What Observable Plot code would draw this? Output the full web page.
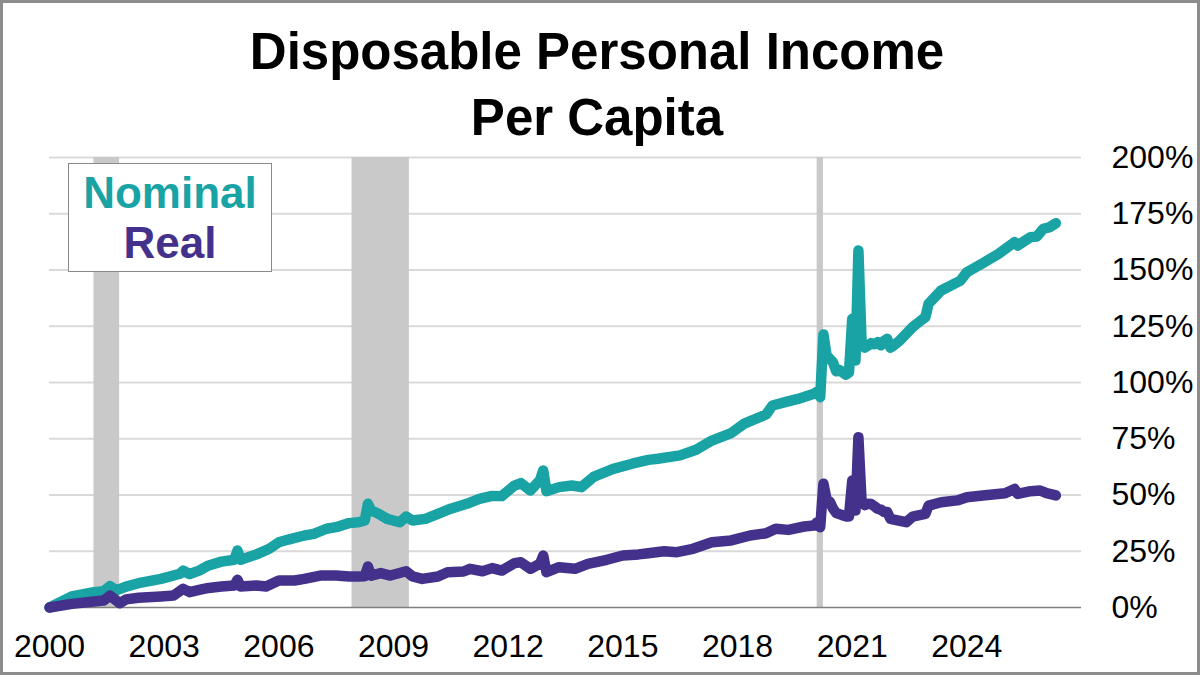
<!DOCTYPE html>
<html>
<head>
<meta charset="utf-8">
<script src="https://cdn.jsdelivr.net/npm/d3@7"></script>
<script src="https://cdn.jsdelivr.net/npm/@observablehq/plot@0.6"></script>
<style>
  body { margin: 0; background: #fff; }
  #wrap { position: relative; width: 1200px; height: 675px; overflow: hidden; background: #fff;
          font-family: Arial, "Liberation Sans", sans-serif; }
  #chart { position: absolute; left: 0; top: 0; }
  #title { position: absolute; left: 0; top: 19px; width: 1194px; text-align: center;
           font-weight: bold; font-size: 51px; line-height: 65.7px; color: #000; }
  #legend { position: absolute; left: 68px; top: 163px; width: 204px; height: 109px; box-sizing: border-box;
            border: 1px solid #8a8a8a; background: #fff; text-align: center; font-weight: bold;
            font-size: 44px; line-height: 50px; padding-top: 4px; }
  #frame { position: absolute; left: 0; top: 0; width: 1200px; height: 675px; box-sizing: border-box;
           border: 3px solid #8c8c8c; pointer-events: none; }
</style>
</head>
<body>
<div id="wrap">
  <div id="chart"></div>
  <div id="title">Disposable Personal Income<br>Per Capita</div>
  <div id="legend"></div>
  <div id="frame"></div>
</div>
<script>
// ---- data (percent change since Jan 2000) ----
const nominalMonths = ["2000-01","2000-08","2001-03","2001-06","2001-08","2001-10","2002-01","2002-05","2002-12","2003-06","2003-07","2003-09","2003-12","2004-03","2004-07","2004-11","2004-12","2005-01","2005-06","2005-10","2006-01","2006-04","2006-09","2006-12","2007-04","2007-07","2007-11","2008-02","2008-04","2008-05","2008-06","2008-08","2008-11","2009-03","2009-05","2009-07","2009-11","2010-03","2010-07","2010-12","2011-04","2011-08","2011-11","2012-03","2012-05","2012-08","2012-11","2012-12","2013-01","2013-05","2013-09","2013-12","2014-04","2014-10","2015-04","2015-09","2015-12","2016-07","2016-12","2017-05","2017-11","2018-03","2018-10","2018-12","2019-04","2019-08","2020-01","2020-02","2020-03","2020-04","2020-05","2020-06","2020-07","2020-08","2020-09","2020-10","2020-11","2020-12","2021-01","2021-02","2021-03","2021-04","2021-05","2021-06","2021-07","2021-08","2021-09","2021-10","2021-11","2021-12","2022-01","2022-02","2022-04","2022-08","2022-11","2022-12","2023-01","2023-05","2023-11","2024-01","2024-06","2024-11","2025-04","2025-05","2025-09","2025-11","2026-01","2026-03","2026-05"];
const nominalValues = [0,4.9,6.8,7.2,9.5,7.6,9.3,10.8,12.7,15.0,16.4,14.9,16.4,18.7,20.4,21.2,25.3,21.2,23.6,26.1,29.0,30.2,32.0,32.7,35.0,35.7,37.5,37.9,38.7,46.1,43.1,41.9,39.4,37.9,40.4,38.7,39.4,41.6,43.9,46.1,48.3,49.6,49.5,54.2,55.3,52.0,56.7,60.9,51.7,53.5,54.2,53.5,58.2,61.6,63.9,65.6,66.1,67.6,70.1,74.2,77.5,81.6,85.8,89.8,91.3,92.7,95.0,96.0,93.5,121.3,112.0,110.5,109.0,105.0,105.5,104.5,103.5,104.5,128.3,109.8,158.7,117.2,115.5,116.4,117.5,117.0,117.9,116.5,118.5,119.4,115.5,116.4,118.7,124.6,128.0,129.0,135.0,140.9,145.3,149.0,153.0,157.2,162.4,160.9,164.6,164.9,168.3,169.0,170.8];

const realMonths = ["2000-01","2000-08","2001-03","2001-06","2001-08","2001-11","2002-01","2002-05","2002-12","2003-04","2003-07","2003-09","2003-12","2004-03","2004-07","2004-11","2004-12","2005-01","2005-06","2005-09","2006-01","2006-06","2006-09","2007-02","2007-07","2007-11","2008-02","2008-04","2008-05","2008-06","2008-09","2008-12","2009-05","2009-07","2009-10","2010-03","2010-06","2010-11","2011-01","2011-05","2011-08","2011-11","2012-03","2012-05","2012-08","2012-11","2012-12","2013-01","2013-05","2013-10","2014-02","2014-08","2015-01","2015-06","2015-09","2016-02","2016-06","2016-11","2017-05","2017-11","2018-05","2018-10","2019-01","2019-05","2019-10","2020-01","2020-02","2020-03","2020-04","2020-05","2020-06","2020-07","2020-08","2020-09","2020-10","2020-11","2020-12","2021-01","2021-02","2021-03","2021-04","2021-05","2021-06","2021-07","2021-08","2021-09","2021-10","2021-11","2021-12","2022-01","2022-04","2022-06","2022-08","2022-12","2023-01","2023-05","2023-10","2024-01","2024-06","2025-01","2025-04","2025-05","2025-09","2025-12","2026-02","2026-05"];
const realValues = [0,1.6,2.7,3.1,5.3,1.9,3.6,4.3,4.9,5.3,8.3,6.8,7.8,8.7,9.3,9.8,12.3,9.3,9.8,9.3,12.0,12.0,12.7,14.2,14.2,13.8,13.8,13.9,18.2,14.2,15.3,14.2,16.1,13.8,12.7,13.8,15.7,16.0,17.2,16.1,17.5,16.4,19.7,20.1,17.2,19.5,23.1,15.7,17.9,17.2,19.4,21.2,23.1,23.6,24.1,25.0,24.6,26.1,29.0,29.8,32.0,33.0,35.0,34.5,36.0,36.4,37.9,35.7,55.0,48.0,47.0,44.0,42.0,41.5,41.0,40.5,40.5,56.4,43.1,75.7,46.8,45.5,46.1,46.0,45.0,43.9,43.5,42.5,42.5,39.4,38.5,37.9,40.4,41.6,45.3,46.8,47.6,49.0,49.8,50.8,52.7,50.5,51.7,52.0,50.8,49.8];

const recessionStarts = ["2001-03","2007-12","2020-02"];
const recessionEnds   = ["2001-11","2009-06","2020-04"];

const yTicks = [0,25,50,75,100,125,150,175,200];
const xTickYears = [2000,2003,2006,2009,2012,2015,2018,2021,2024];

const seriesNames = ["Nominal","Real"];
const seriesColors = ["#1aa3a4","#44318b"];

// ---- build tables ----
const parseM = d3.utcParse("%Y-%m");
const nominal = nominalMonths.map((m,i) => ({date: parseM(m), value: nominalValues[i]}));
const real = realMonths.map((m,i) => ({date: parseM(m), value: realValues[i]}));
const recessions = recessionStarts.map((s,i) => ({start: parseM(s), end: parseM(recessionEnds[i])}));
const xTicks = xTickYears.map(y => new Date(Date.UTC(y,0,1)));

const font = 'Arial, "Liberation Sans", sans-serif';

const chart = Plot.plot({
  width: 1200,
  height: 675,
  marginLeft: 49,
  marginRight: 119,
  marginTop: 157,
  marginBottom: 68,
  style: {fontFamily: font, color: "#000", background: "transparent", overflow: "visible"},
  x: {type: "utc", domain: [new Date(Date.UTC(2000,0,1)), new Date(Date.UTC(2027,0,1))]},
  y: {domain: [0, 200]},
  marks: [
    Plot.ruleY(yTicks.filter(d => d > 0), {stroke: "#d9d9d9", strokeWidth: 2}),
    Plot.rect(recessions, {x1: "start", x2: "end", y1: () => 0, y2: () => 200, fill: "#c9c9c9"}),
    Plot.ruleY([0], {stroke: "#808080", strokeWidth: 1.5}),
    Plot.line(nominal, {x: "date", y: "value", stroke: seriesColors[0], strokeWidth: 10.5,
      strokeLinejoin: "round", strokeLinecap: "round"}),
    Plot.line(real, {x: "date", y: "value", stroke: seriesColors[1], strokeWidth: 10.5,
      strokeLinejoin: "round", strokeLinecap: "round"}),
    Plot.axisY({anchor: "right", ticks: yTicks, tickSize: 0, tickPadding: 30, fontSize: 32,
      tickFormat: d => d + "%", label: null, fill: "#000"}),
    Plot.axisX({ticks: xTicks, tickSize: 0, tickPadding: 27, fontSize: 32,
      tickFormat: d3.utcFormat("%Y"), label: null, fill: "#000"})
  ]
});
document.getElementById("chart").appendChild(chart);

const legend = document.getElementById("legend");
seriesNames.forEach((n,i) => {
  const div = document.createElement("div");
  div.textContent = n;
  div.style.color = seriesColors[i];
  legend.appendChild(div);
});
</script>
</body>
</html>
